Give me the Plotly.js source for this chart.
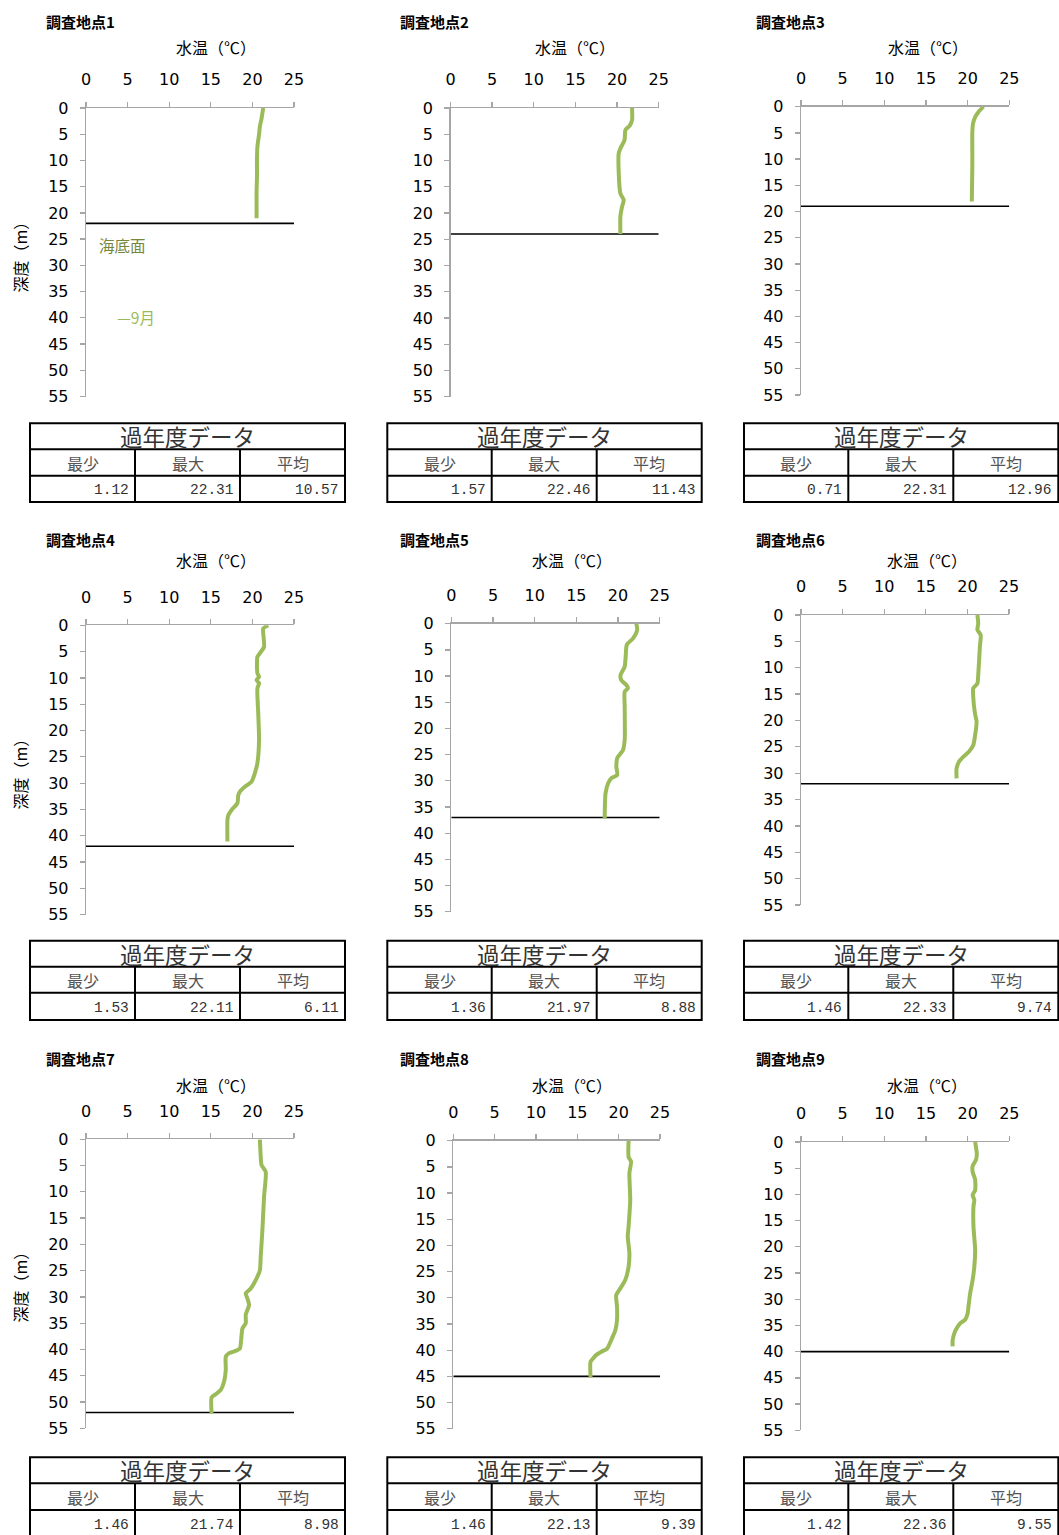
<!DOCTYPE html>
<html><head><meta charset="utf-8">
<script src="https://cdn.plot.ly/plotly-3.0.1.min.js"></script>
<style>html,body{margin:0;padding:0;background:#fff}#chart{width:1059px;height:1535px}</style>
</head><body><div id="chart"></div>
<script>
// ---------- data ----------
const siteNames = ['調査地点1','調査地点2','調査地点3','調査地点4','調査地点5','調査地点6','調査地点7','調査地点8','調査地点9'];
const tempTicks = [0, 5, 10, 15, 20, 25];
const depthTicks = [0, 5, 10, 15, 20, 25, 30, 35, 40, 45, 50, 55];
const xTitle = '水温（℃）';
const yTitle = '深度（m）';
const seriesName = '9月';
const seabedLabel = '海底面';

const depth1 = [0, 1, 2, 3.5, 5, 7.4, 10, 13, 16, 19, 21];
const temp1  = [21.3, 21.2, 21.1, 20.9, 20.8, 20.6, 20.55, 20.55, 20.5, 20.5, 20.5];
const depth2 = [0, 2.3, 3.4, 4.2, 6.1, 7.7, 8.6, 12.4, 16.3, 17.5, 18.8, 20.7, 24];
const temp2  = [21.8, 21.8, 21.5, 21.0, 20.9, 20.4, 20.2, 20.2, 20.4, 20.8, 20.6, 20.4, 20.4];
const depth3 = [0, 1, 2, 3.2, 5, 8, 11.4, 15, 18.1];
const temp3  = [21.9, 21.3, 20.9, 20.65, 20.56, 20.56, 20.56, 20.53, 20.5];
const depth4 = [0, 0.6, 1.5, 4.1, 5.3, 6, 9.1, 9.8, 10.4, 11, 12, 16.7, 21.8, 26.2, 28.1, 29.7, 30.7, 31.6, 32.3, 33.8, 35.1, 36.1, 37, 41.1];
const temp4  = [21.9, 21.3, 21.3, 21.4, 20.9, 20.6, 20.6, 20.8, 20.5, 20.8, 20.6, 20.7, 20.8, 20.6, 20.3, 19.9, 19.1, 18.5, 18.3, 18.2, 17.5, 17.1, 17.0, 17.0];
const depth5 = [0, 1.2, 2.8, 3.9, 4.4, 8.2, 9.8, 10.8, 11.7, 12.3, 13, 15.8, 22.2, 24.1, 25.7, 27.3, 28.9, 29.5, 30.5, 32.4, 37.2];
const temp5  = [22.2, 22.3, 21.8, 21.1, 21.0, 20.8, 20.3, 20.4, 21.0, 21.2, 20.8, 20.8, 20.8, 20.6, 19.9, 19.8, 19.9, 19.2, 18.8, 18.5, 18.4];
const depth6 = [0, 1.6, 2.8, 3.8, 6, 11.4, 13, 13.9, 15.5, 18.6, 20.2, 23.1, 24.7, 25.9, 26.9, 27.8, 29.1, 31];
const temp6  = [21.2, 21.3, 21.2, 21.6, 21.5, 21.3, 21.2, 20.7, 20.7, 20.9, 21.1, 20.9, 20.7, 20.2, 19.5, 19.0, 18.7, 18.7];
const depth7 = [0, 3.3, 4.9, 6.2, 10.9, 14.1, 17.3, 22.3, 24.9, 26.8, 28.4, 29.3, 30.3, 31.5, 33.4, 35, 36, 39.8, 40.2, 40.7, 41.4, 43.9, 46.1, 47.7, 48.5, 49.1, 52.2];
const temp7  = [20.9, 21.0, 21.1, 21.6, 21.4, 21.3, 21.2, 21.0, 20.9, 20.4, 19.8, 19.2, 19.4, 19.6, 19.2, 19.2, 18.8, 18.5, 18.1, 17.2, 16.8, 16.8, 16.6, 16.2, 15.6, 15.1, 15.1];
const depth8 = [0, 3.1, 4, 6.2, 11.3, 16.4, 18.3, 21.5, 24.1, 26.6, 28.2, 29.5, 31.7, 34.2, 36.2, 37.7, 39.7, 40.3, 40.9, 41.6, 42.2, 45.2];
const temp8  = [21.2, 21.2, 21.5, 21.3, 21.4, 21.2, 21.1, 21.3, 21.2, 20.8, 20.2, 19.7, 19.8, 19.8, 19.6, 19.2, 18.6, 17.9, 17.3, 16.9, 16.6, 16.6];
const depth9 = [0, 2.2, 3.4, 4.6, 5.7, 7.2, 9.2, 10.1, 11.1, 12.3, 16.1, 20.6, 23.8, 26.3, 28.9, 31.4, 32.7, 33.9, 34.6, 35.5, 36.5, 37.8, 39];
const temp9  = [20.9, 21.1, 21.0, 20.6, 20.6, 20.9, 20.9, 20.6, 20.8, 20.7, 20.7, 20.9, 20.8, 20.6, 20.3, 20.1, 20.0, 19.7, 19.1, 18.7, 18.4, 18.2, 18.2];

const seabedDepth = [22, 24, 19, 42, 37, 32, 52, 45, 40];

const tableTitle = '過年度データ';
const tableHeaders = ['最少', '最大', '平均'];
const histMin  = [1.12, 1.57, 0.71, 1.53, 1.36, 1.46, 1.46, 1.46, 1.42];
const histMax  = [22.31, 22.46, 22.31, 22.11, 21.97, 22.33, 21.74, 22.13, 22.36];
const histMean = [10.57, 11.43, 12.96, 6.11, 8.88, 9.74, 8.98, 9.39, 9.55];

// ---------- layout geometry (pixels) ----------
const W = 1059, H = 1535;
const depths = [depth1, depth2, depth3, depth4, depth5, depth6, depth7, depth8, depth9];
const temps  = [temp1, temp2, temp3, temp4, temp5, temp6, temp7, temp8, temp9];
// plot rectangles [left, right, top, bottom]
const plotRect = [
  [86, 294, 108, 396.5], [450.5, 658.7, 108, 396.7], [801, 1009.3, 106.7, 395],
  [86, 294, 625.3, 914.7], [451.3, 659.7, 623.7, 911.7], [801, 1009, 615, 905],
  [86, 294, 1139.3, 1428.3], [453.3, 660, 1140.7, 1428.7], [801, 1009.3, 1142, 1430.3]
];
const nameLeft = [44, 398, 754];
const nameY = [22, 539, 1058];
const xTitleCx = [[216, 574.7, 928], [216, 572, 927.3], [216, 572, 927]];
const xTitleY = [47, 560, 1085];
const yTitleY = [253, 770, 1283];
const tblCols = [[30, 135, 240, 345], [387.3, 491.7, 596.7, 701.7], [744, 848.3, 953.3, 1058.3]];
const tblRows = [[423.3, 449.3, 475.7, 502], [940.7, 966.7, 992.7, 1020], [1457.3, 1483.3, 1510, 1537]];

const px = v => v / W;
const py = v => 1 - v / H;

const GREEN = '#9bbb59';
const AXIS = '#a6a6a6';
const TICKFONT = {family: 'DejaVu Sans, Verdana, sans-serif', size: 16, color: '#000'};
const traces = [], annotations = [], shapes = [];
const layout = {
  width: W, height: H, margin: {l: 0, r: 0, t: 0, b: 0},
  showlegend: false, paper_bgcolor: '#ffffff', plot_bgcolor: '#ffffff',
  font: {family: 'DejaVu Sans, Verdana, sans-serif', color: '#000'}
};

for (let i = 0; i < 9; i++) {
  const k = i === 0 ? '' : String(i + 1);
  const [l, r, t, b] = plotRect[i];
  const row = Math.floor(i / 3), col = i % 3;
  layout['xaxis' + k] = {
    domain: [px(l), px(r)], anchor: 'y' + k, side: 'top', range: [0, 25],
    tickvals: tempTicks, ticktext: tempTicks.map(String), ticks: 'outside', ticklen: 5, tickwidth: 1.3, tickcolor: AXIS,
    showline: true, linecolor: AXIS, linewidth: 1.3, showgrid: false, zeroline: false,
    tickfont: TICKFONT, ticklabelstandoff: 10, fixedrange: true
  };
  layout['yaxis' + k] = {
    domain: [py(b), py(t)], anchor: 'x' + k, range: [55, 0],
    tickvals: depthTicks, ticktext: depthTicks.map(String), ticks: 'outside', ticklen: 5, tickwidth: 1.3, tickcolor: AXIS,
    showline: true, linecolor: AXIS, linewidth: 1.3, showgrid: false, zeroline: false,
    tickfont: TICKFONT, ticklabelstandoff: 8, fixedrange: true
  };
  // seabed line
  traces.push({
    type: 'scatter', mode: 'lines', x: [0, 25], y: [seabedDepth[i], seabedDepth[i]],
    xaxis: 'x' + k, yaxis: 'y' + k, line: {color: '#000', width: 1.6}, hoverinfo: 'skip', cliponaxis: false
  });
  // temperature profile
  traces.push({
    type: 'scatter', mode: 'lines', name: seriesName, x: temps[i], y: depths[i],
    xaxis: 'x' + k, yaxis: 'y' + k, line: {color: GREEN, width: 4, shape: 'spline', smoothing: 0.6}
  });

  // site title
  annotations.push({xref: 'paper', yref: 'paper', x: px(nameLeft[col]), y: py(nameY[row]), xanchor: 'left', yanchor: 'middle',
    text: '<b>' + siteNames[i] + '</b>', showarrow: false,
    font: {family: 'Noto Sans CJK JP', size: 15, color: '#000'}});
  // x axis title
  annotations.push({xref: 'paper', yref: 'paper', x: px(xTitleCx[row][col]), y: py(xTitleY[row]), xanchor: 'center', yanchor: 'middle',
    text: xTitle, showarrow: false, font: {family: 'Noto Sans CJK JP', size: 16, color: '#000'}});
  // y axis title for left column
  if (col === 0) {
    annotations.push({xref: 'paper', yref: 'paper', x: px(19.5), y: py(yTitleY[row]), xanchor: 'center', yanchor: 'middle',
      text: yTitle, textangle: -90, showarrow: false, font: {family: 'Noto Sans CJK JP', size: 16, color: '#000'}});
  }

  // table
  const [c0, c1, c2, c3] = tblCols[col];
  const [r0, r1, r2, r3] = tblRows[row];
  const lineStyle = {color: '#000', width: 2};
  shapes.push({type: 'rect', xref: 'paper', yref: 'paper', x0: px(c0), x1: px(c3), y0: py(r0), y1: py(r3), line: lineStyle, fillcolor: 'rgba(0,0,0,0)'});
  shapes.push({type: 'line', xref: 'paper', yref: 'paper', x0: px(c0), x1: px(c3), y0: py(r1), y1: py(r1), line: lineStyle});
  shapes.push({type: 'line', xref: 'paper', yref: 'paper', x0: px(c0), x1: px(c3), y0: py(r2), y1: py(r2), line: lineStyle});
  shapes.push({type: 'line', xref: 'paper', yref: 'paper', x0: px(c1), x1: px(c1), y0: py(r1), y1: py(r3), line: lineStyle});
  shapes.push({type: 'line', xref: 'paper', yref: 'paper', x0: px(c2), x1: px(c2), y0: py(r1), y1: py(r3), line: lineStyle});
  annotations.push({xref: 'paper', yref: 'paper', x: px((c0 + c3) / 2), y: py((r0 + r1) / 2), xanchor: 'center', yanchor: 'middle',
    text: tableTitle, showarrow: false, font: {family: 'Noto Sans CJK JP', size: 22.5, color: '#333'}});
  const cols = [c0, c1, c2, c3];
  const vals = [histMin[i], histMax[i], histMean[i]];
  for (let j = 0; j < 3; j++) {
    annotations.push({xref: 'paper', yref: 'paper', x: px((cols[j] + cols[j + 1]) / 2), y: py((r1 + r2) / 2), xanchor: 'center', yanchor: 'middle',
      text: tableHeaders[j], showarrow: false, font: {family: 'Noto Sans CJK JP', size: 16, color: '#555'}});
    annotations.push({xref: 'paper', yref: 'paper', x: px(cols[j + 1] - 4), y: py((r2 + r3) / 2 + 1.5), xanchor: 'right', yanchor: 'middle',
      text: vals[j].toFixed(2), showarrow: false, font: {family: 'Liberation Mono, monospace', size: 14.5, color: '#333'}});
  }
}

// seabed label and series label (site 1 only)
annotations.push({xref: 'paper', yref: 'paper', x: px(97), y: py(245.5), xanchor: 'left', yanchor: 'middle',
  text: seabedLabel, showarrow: false, font: {family: 'Noto Sans CJK JP', size: 15.5, color: '#76873c'}});
annotations.push({xref: 'paper', yref: 'paper', x: px(115), y: py(316.5), xanchor: 'left', yanchor: 'middle',
  text: '—' + seriesName, showarrow: false, font: {family: 'Noto Sans CJK JP', size: 15.5, color: GREEN}});

layout.annotations = annotations;
layout.shapes = shapes;
Plotly.newPlot('chart', traces, layout, {staticPlot: true, displayModeBar: false});
</script>
</body></html>
